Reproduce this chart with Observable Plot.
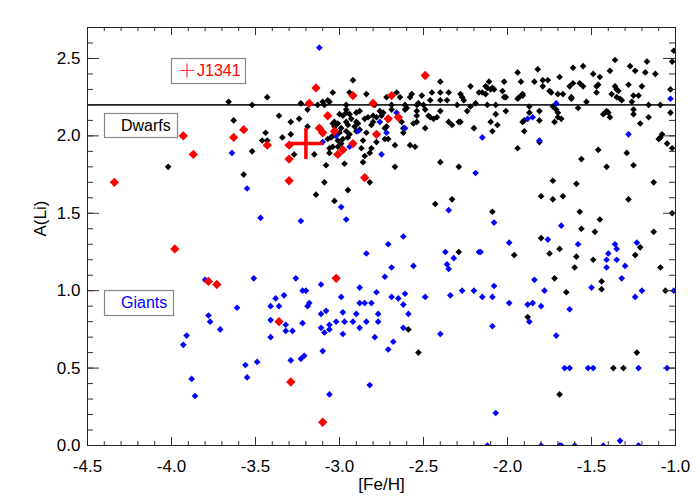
<!DOCTYPE html>
<html><head><meta charset="utf-8">
<script src="https://cdn.jsdelivr.net/npm/d3@7"></script>
<script src="https://cdn.jsdelivr.net/npm/@observablehq/plot@0.6"></script>
<style>body{margin:0;background:#fff}</style>
</head><body><div id="chart"></div>
<script>
// [Fe/H], A(Li)
const dwarfs = [
[-4.02,1.80],[-3.66,2.22],[-3.52,2.20],[-3.43,2.25],[-3.36,2.13],[-3.63,2.10],[-3.44,2.02],[-3.46,1.97],[-3.43,1.97],[-3.52,1.90],[-3.57,1.75],
[-3.29,2.09],[-3.34,1.99],[-3.29,2.01],[-3.24,2.11],[-3.19,2.06],[-3.23,2.21],[-3.13,2.20],[-3.19,2.17],[-3.04,2.28],[-3.10,2.22],[-3.07,2.23],[-3.06,2.22],[-3.09,2.20],[-3.15,1.88],[-3.27,1.88],
[-3.03,2.09],[-3.02,2.07],[-3.01,2.08],[-3.05,1.99],[-2.99,2.05],[-3.00,2.02],[-3.01,1.97],[-3.06,1.92],[-3.04,1.93],[-3.01,1.93],[-3.06,1.89],[-2.97,1.82],[-3.08,1.81],[-2.86,1.83],[-2.67,1.80],[-2.40,1.83],[-2.29,1.80],
[-3.09,1.70],[-2.82,1.70],[-2.95,1.65],[-3.14,1.62],[-3.03,1.58],[-2.43,1.56],[-2.33,1.59],[-2.29,1.25],[-2.59,0.75],[-2.53,0.60],
[-2.99,1.95],[-2.95,1.99],[-2.98,1.98],[-2.96,2.03],[-2.94,2.01],[-2.95,2.07],[-2.96,2.09],[-2.96,2.20],[-2.96,2.17],[-2.96,2.15],[-2.94,2.28],[-2.92,2.36],[-2.84,2.27],[-2.72,2.25],[-2.66,2.28],[-2.64,2.25],[-2.57,2.27],[-2.58,2.25],[-2.51,2.26],[-2.45,2.28],[-2.40,2.28],[-2.35,2.28],[-2.40,2.35],
[-2.79,2.20],[-2.69,2.20],[-2.69,2.17],[-2.61,2.17],[-2.54,2.20],[-2.53,2.21],[-2.50,2.20],[-2.49,2.17],[-2.54,2.16],[-2.46,2.23],[-2.40,2.23],[-2.36,2.23],[-2.30,2.20],[-2.47,2.13],[-2.46,2.12],[-2.44,2.11],[-2.42,2.12],[-2.40,2.16],[-2.35,2.09],[-2.33,2.07],[-2.29,2.09],[-2.49,2.05],[-2.56,2.08],[-2.54,2.09],[-2.54,2.13],[-2.61,2.20],[-2.60,2.18],
[-3.04,2.08],[-3.03,2.06],[-3.02,2.03],[-3.00,2.14],[-2.98,2.13],[-2.94,2.14],[-2.93,2.11],[-2.90,2.15],[-2.88,2.16],[-2.90,2.09],[-2.89,2.08],[-2.91,2.06],[-2.90,2.03],[-2.88,2.04],[-2.85,2.11],[-2.83,2.12],[-2.80,2.13],[-2.80,2.09],[-2.78,2.12],[-2.81,2.07],[-2.75,2.13],[-2.74,2.15],[-2.76,2.16],[-2.63,2.09],[-2.62,2.05],[-2.62,2.02],[-2.72,2.06],[-2.73,2.05],[-2.73,1.98],[-2.71,1.98],[-2.67,1.94],[-2.58,1.94],[-2.55,1.93],[-2.78,1.96],[-2.81,1.92],[-2.82,1.89],[-2.85,1.87],[-2.87,1.92],[-2.86,1.97],[-2.84,2.02],[-3.07,1.98],[-3.04,2.00],
[-2.28,2.27],[-2.27,2.25],[-2.26,2.23],[-2.22,2.32],[-2.24,2.16],[-2.22,2.19],[-2.28,2.09],[-2.20,2.05],[-2.19,2.21],[-2.17,2.28],[-2.15,2.28],[-2.13,2.27],[-2.13,2.32],[-2.12,2.31],[-2.11,2.35],[-2.10,2.30],[-2.09,2.31],[-2.08,2.30],[-2.12,2.20],[-2.07,2.20],[-2.07,2.14],[-2.10,2.09],[-2.06,2.07],[-2.09,2.03],
[-2.03,2.29],[-2.02,2.35],[-2.02,2.25],[-2.01,2.25],[-2.01,2.16],[-1.94,1.92],[-1.94,2.41],[-1.92,2.35],[-1.94,2.24],[-1.93,2.25],[-1.91,2.26],[-1.91,2.27],[-1.87,2.19],[-1.87,2.15],[-1.91,2.09],[-1.90,2.10],[-1.90,2.03],
[-1.84,2.35],[-1.82,2.43],[-1.79,2.32],[-1.79,2.36],[-1.76,2.36],[-1.81,2.16],[-1.81,2.10],[-1.81,1.96],[-1.75,2.29],[-1.74,2.28],[-1.69,2.38],[-1.70,2.27],[-1.67,2.27],[-1.73,2.19],[-1.71,2.17],[-1.70,2.15],[-1.70,2.12],[-1.68,2.11],[-1.72,2.09],
[-1.61,2.44],[-1.62,2.25],[-1.62,2.24],[-1.63,2.32],[-1.61,2.34],[-1.58,2.18],[-1.56,1.85],[-1.55,2.45],[-1.57,2.34],[-1.55,2.32],[-1.53,2.22],[-1.49,2.40],[-1.46,1.91],[-1.45,2.38],[-1.47,2.32],[-1.46,2.33],[-1.47,2.28],
[-1.41,2.16],[-1.40,2.15],[-1.43,2.14],[-1.39,2.12],[-1.41,1.80],[-1.39,2.42],[-1.36,2.49],[-1.38,2.27],[-1.36,2.32],[-1.35,2.30],[-1.34,2.29],[-1.35,2.25],[-1.33,2.24],[-1.32,2.23],
[-1.28,2.33],[-1.27,2.45],[-1.24,2.42],[-1.26,2.22],[-1.25,2.17],[-1.25,2.14],[-1.25,2.26],[-1.22,2.26],[-1.21,2.08],[-1.20,2.32],[-1.29,1.89],[-1.25,1.81],
[-1.18,2.41],[-1.17,2.48],[-1.16,2.20],[-1.16,2.12],[-1.12,2.40],[-1.09,2.20],[-1.09,1.99],[-1.10,1.98],[-1.08,2.01],[-1.05,1.95],[-1.02,1.92],[-1.01,2.55],[-1.02,2.48],[-1.03,2.30],[-1.03,2.15],
[-1.73,1.71],[-1.59,1.69],[-1.13,1.70],[-1.80,1.61],[-1.73,1.59],[-1.67,1.61],[-1.28,1.59],[-2.09,1.51],[-1.57,1.51],[-1.02,1.50],[-1.45,1.46],[-1.56,1.40],[-1.48,1.38],[-1.13,1.38],[-1.80,1.34],[-1.21,1.28],
[-1.96,1.23],[-1.75,1.24],[-1.69,1.27],[-1.59,1.22],[-1.24,1.23],[-1.49,1.20],[-1.60,1.15],[-1.09,1.15],[-1.72,1.08],[-1.44,1.06],[-1.44,1.01],[-1.65,0.99],[-1.06,1.00],
[-1.88,0.83],[-1.23,0.60],[-1.37,0.50],[-1.31,0.50],[-1.69,0.33]
];
const giants = [
[-3.12,2.57],[-3.64,1.89],[-3.55,1.66],[-3.47,1.47],[-3.10,1.96],[-3.02,2.00],[-2.94,1.93],[-2.89,2.03],[-2.76,2.09],[-2.72,2.02],[-2.66,2.15],[-2.61,2.05],[-2.75,1.88],
[-2.15,1.99],[-2.19,1.76],[-1.88,2.11],[-1.85,2.12],[-1.81,1.97],[-1.71,2.21],[-1.28,2.01],[-1.03,2.24],
[-2.99,1.54],[-3.23,1.45],[-2.96,1.46],[-2.35,1.52],[-2.62,1.35],[-2.71,1.30],[-2.84,1.24],[-2.37,1.25],[-2.32,1.21],[-2.36,1.17],[-2.35,1.14],[-2.69,1.15],[-2.56,1.16],[-2.73,1.09],
[-2.08,1.44],[-1.68,1.42],[-1.76,1.33],[-1.99,1.31],[-1.58,1.30],[-1.36,1.30],[-1.35,1.27],[-1.40,1.24],[-1.23,1.31],[-2.17,1.25],[-2.16,1.25],[-1.41,1.20],[-1.35,1.20],[-1.41,1.15],[-1.30,1.16],[-1.84,1.07],[-1.32,1.08],[-1.50,1.02],
[-3.80,1.07],[-3.51,1.08],[-3.38,0.95],[-3.41,0.90],[-3.36,0.90],[-3.61,0.89],[-3.78,0.84],[-3.77,0.80],[-3.71,0.75],[-3.91,0.71],[-3.93,0.65],[-3.41,0.81],[-3.41,0.70],[-3.56,0.52],[-3.49,0.54],[-3.55,0.44],[-3.88,0.43],[-3.86,0.32],
[-3.32,0.78],[-3.32,0.74],[-3.28,0.74],[-3.22,0.79],[-3.19,0.90],[-3.18,0.92],[-3.29,0.55],[-3.23,0.56],[-3.21,0.58],[-3.11,0.85],[-3.08,0.87],[-3.11,0.76],[-3.09,0.73],[-3.06,0.78],[-3.06,0.75],[-3.10,0.61],[-3.06,0.33],
[-3.02,0.80],[-2.98,0.86],[-2.98,0.72],[-2.97,0.80],[-2.92,0.80],[-2.90,0.85],[-2.88,0.92],[-2.85,0.92],[-2.81,0.92],[-2.88,0.76],[-2.84,0.80],[-2.77,0.85],[-2.77,0.80],[-2.79,0.70],[-2.82,0.39],[-2.68,0.67],[-2.71,0.62],[-2.62,0.91],[-2.59,0.85],[-2.62,0.76],[-2.40,0.72],
[-3.26,1.08],[-3.11,1.04],[-3.22,1.00],[-3.20,1.00],[-3.33,0.97],[-2.88,1.02],[-2.99,0.96],[-2.78,0.99],[-2.69,0.96],[-2.65,0.95],[-2.61,0.98],[-2.49,0.96],[-2.34,0.97],[-2.27,1.00],[-2.20,1.00],[-2.08,1.03],[-2.15,0.96],[-2.09,0.96],
[-1.78,1.00],[-1.20,1.00],[-1.01,1.00],[-1.24,0.96],[-1.99,0.92],[-1.88,0.91],[-1.85,0.92],[-1.80,0.90],[-1.63,0.88],[-2.09,0.77],[-1.87,0.80],[-1.71,0.71],
[-1.66,0.50],[-1.63,0.50],[-1.52,0.50],[-1.49,0.50],[-1.22,0.50],[-1.05,0.50],[-2.07,0.21],
[-2.12,0.00],[-1.80,0.00],[-1.69,0.00],[-1.68,0.00],[-1.60,0.00],[-1.43,0.00],[-1.22,0.00],[-1.33,0.03]
];
const others = [
[-4.34,1.70],[-3.98,1.27],[-3.93,2.00],[-3.87,1.88],[-3.78,1.06],[-3.73,1.04],[-3.63,1.99],[-3.57,2.04],[-3.43,1.94],[-3.36,0.80],
[-3.30,1.85],[-3.30,1.71],[-3.29,0.41],[-3.30,1.94],[-3.18,2.21],[-3.14,2.31],[-3.12,2.05],[-3.10,2.02],[-3.07,2.13],[-3.03,2.03],
[-3.02,1.08],[-3.10,0.15],[-2.98,1.91],[-3.01,1.88],[-2.92,2.26],[-2.92,1.95],[-2.85,1.73],[-2.80,2.21],[-2.78,2.01],[-2.71,2.11],[-2.69,2.26],[-2.65,2.12],[-2.49,2.39]
];
const j1341 = [[-3.20, 1.95]];
const j1341Err = [0.10, 0.10]; // [Fe/H] error, A(Li) error
const refLine = [2.2];
const xMajor = [-4.5,-4.0,-3.5,-3.0,-2.5,-2.0,-1.5,-1.0];
const yMajor = [0.0,0.5,1.0,1.5,2.0,2.5];
const xMinor = d3.range(-45,-9).map(i => i/10);
const yMinor = d3.range(0,28).map(i => i/10);
const legendLabels = ["J1341","Dwarfs","Giants"];
const legendColors = ["#ff0000","#000000","#0000ff"];

const W = 700, H = 500, mL = 87, mR = 25, mT = 27, mB = 55;
const fw = W - mL - mR, fh = H - mT - mB;
const font = "'Liberation Sans', Arial, Helvetica, sans-serif";

const plot = Plot.plot({
  width: W, height: H,
  marginLeft: mL, marginRight: mR, marginTop: mT, marginBottom: mB,
  x: {domain: [-4.5, -1.0]},
  y: {domain: [0, 2.7]},
  style: {fontFamily: font, fontSize: "17px", background: "#fff", color: "#000"},
  marks: [
    Plot.ruleY(refLine, {stroke: "#222", strokeWidth: 1.6}),
    Plot.dot(dwarfs, {x: d => d[0], y: d => d[1], symbol: "diamond2", r: 3.0, fill: "#000", stroke: "none", clip: true}),
    Plot.dot(giants, {x: d => d[0], y: d => d[1], symbol: "diamond2", r: 3.0, fill: "#0000ff", stroke: "none", clip: true}),
    Plot.dot(others, {x: d => d[0], y: d => d[1], symbol: "diamond2", r: 4.2, fill: "#ff0000", stroke: "none", clip: true}),
    Plot.link(j1341, {x1: d => d[0] - j1341Err[0], x2: d => d[0] + j1341Err[0], y1: d => d[1], y2: d => d[1], stroke: "#ff0000", strokeWidth: 3.5}),
    Plot.link(j1341, {x1: d => d[0], x2: d => d[0], y1: d => d[1] - j1341Err[1], y2: d => d[1] + j1341Err[1], stroke: "#ff0000", strokeWidth: 3.5}),
    // inward ticks
    Plot.ruleX(xMajor, {insetTop: fh - 8, stroke: "#333"}),
    Plot.ruleX(xMajor, {insetBottom: fh - 8, stroke: "#333"}),
    Plot.ruleX(xMinor, {insetTop: fh - 4, stroke: "#333"}),
    Plot.ruleX(xMinor, {insetBottom: fh - 4, stroke: "#333"}),
    Plot.ruleY(yMajor, {insetRight: fw - 12, stroke: "#333"}),
    Plot.ruleY(yMajor, {insetLeft: fw - 12, stroke: "#333"}),
    Plot.ruleY(yMinor, {insetRight: fw - 6, stroke: "#333"}),
    Plot.ruleY(yMinor, {insetLeft: fw - 6, stroke: "#333"}),
    Plot.frame({stroke: "#222"}),
    Plot.axisX(xMajor, {tickSize: 0, tickPadding: 14, tickFormat: d => d.toFixed(1), label: null, fontSize: 17}),
    Plot.axisY(yMajor, {tickSize: 0, tickPadding: 7, tickFormat: d => d.toFixed(1), label: null, fontSize: 17}),
    Plot.text(["[Fe/H]"], {frameAnchor: "bottom", dy: 44, fontSize: 17}),
    Plot.text(["A(Li)"], {frameAnchor: "left", dx: -47, rotate: -90, fontSize: 17})
  ]
});

// in-plot legend boxes
const svg = d3.select(plot);
const g = svg.append("g").attr("font-family", font).attr("font-size", 16).attr("text-anchor", "start");
const boxes = [
  {x: 171, y: 58, w: 74, h: 25, tx: 197},
  {x: 104, y: 113, w: 73, h: 24, tx: 121},
  {x: 104, y: 290, w: 69, h: 25, tx: 121}
];
boxes.forEach((b, i) => {
  g.append("rect").attr("x", b.x + 0.5).attr("y", b.y + 0.5).attr("width", b.w).attr("height", b.h)
    .attr("fill", "#fff").attr("stroke", "#888").attr("stroke-width", 1.2);
  g.append("text").attr("x", b.tx).attr("y", b.y + b.h / 2).attr("dy", "0.36em")
    .attr("text-anchor", "start").attr("fill", legendColors[i]).text(legendLabels[i]);
});
g.append("path").attr("d", "M180,70.5h14M187,63.5v14").attr("stroke", "#ff3030").attr("stroke-width", 1.2);

document.getElementById("chart").appendChild(plot);
</script>
</body></html>
